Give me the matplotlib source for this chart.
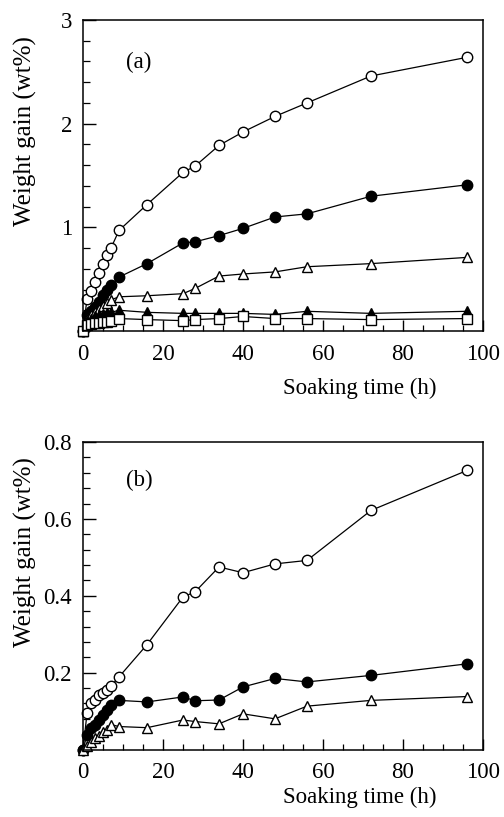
"""
Weight gain vs soaking time, two panels (a) and (b).
"""
import matplotlib
matplotlib.use('Agg')
import matplotlib.pyplot as plt
from matplotlib.ticker import MultipleLocator

plt.rcParams['font.family'] = ['Liberation Serif', 'DejaVu Serif']
plt.rcParams['mathtext.fontset'] = 'stix'

# Soaking times (h)
t = [0, 1, 2, 3, 4, 5, 6, 7, 9, 16, 25, 28, 34, 40, 48, 56, 72, 96]

# Panel (a), weight gain (wt%)
a_open_circle = [0, 0.31, 0.39, 0.47, 0.56, 0.65, 0.73, 0.80, 0.97, 1.22, 1.53, 1.59,
                 1.79, 1.92, 2.07, 2.20, 2.46, 2.64]
a_filled_circle = [0, 0.15, 0.19, 0.23, 0.28, 0.35, 0.40, 0.44, 0.52, 0.65, 0.85, 0.86,
                   0.92, 0.99, 1.10, 1.13, 1.30, 1.41]
a_open_triangle = [0, 0.12, 0.15, 0.18, 0.21, 0.24, 0.27, 0.30, 0.33, 0.34, 0.36, 0.41,
                   0.53, 0.55, 0.57, 0.62, 0.65, 0.71]
a_filled_triangle = [0, 0.10, 0.12, 0.14, 0.15, 0.16, 0.17, 0.18, 0.20, 0.18, 0.17, 0.17,
                     0.17, 0.17, 0.16, 0.19, 0.17, 0.19]
a_open_square = [0, 0.06, 0.07, 0.08, 0.08, 0.09, 0.09, 0.10, 0.12, 0.11, 0.10, 0.11,
                 0.12, 0.14, 0.12, 0.12, 0.11, 0.12]

# Panel (b), weight gain (wt%)
b_open_circle = [0, 0.094, 0.12, 0.13, 0.141, 0.148, 0.156, 0.165, 0.189, 0.273, 0.397,
                 0.41, 0.475, 0.46, 0.483, 0.492, 0.622, 0.726]
b_filled_circle = [0, 0.038, 0.055, 0.064, 0.077, 0.089, 0.102, 0.115, 0.128, 0.124,
                   0.137, 0.127, 0.129, 0.163, 0.185, 0.176, 0.193, 0.223]
b_open_triangle = [0, 0.01, 0.02, 0.03, 0.036, 0.045, 0.05, 0.065, 0.06, 0.057, 0.077,
                   0.073, 0.067, 0.093, 0.08, 0.113, 0.128, 0.138]

FS = 16.5


def draw_series(ax, y, marker, filled, ms):
    ax.plot(t, y, color='black', lw=0.9, marker=marker, ms=ms,
            mfc='black' if filled else 'white', mec='black', mew=1.0,
            clip_on=False)


def style_axes(ax, ymax, yminor, yticks, yfmt, tag, tag_y, xlab_y):
    ax.set_xlim(0, 100)
    ax.set_ylim(0, ymax)
    ax.set_xticks([0, 20, 40, 60, 80, 100])
    ax.xaxis.set_minor_locator(MultipleLocator(5))
    ax.set_yticks(yticks)
    ax.set_yticklabels([yfmt.format(v) for v in yticks])
    ax.yaxis.set_minor_locator(MultipleLocator(yminor))
    ax.tick_params(axis='x', which='both', direction='in', top=False, labelsize=FS, pad=9)
    ax.tick_params(axis='y', which='both', direction='in', right=False, labelsize=FS, pad=8)
    ax.tick_params(axis='x', which='major', length=8, width=1)
    ax.tick_params(axis='x', which='minor', length=4, width=0.9)
    ax.tick_params(axis='y', which='major', length=9, width=1)
    ax.tick_params(axis='y', which='minor', length=5, width=0.9)
    for sp in ax.spines.values():
        sp.set_linewidth(1.1)

    ax.text(0.14, tag_y, tag, transform=ax.transAxes, fontsize=FS,
            ha='center', va='center')
    ax.text(-0.145, 0.643, 'Weight gain (wt%)', transform=ax.transAxes,
            fontsize=18, rotation=90, ha='center', va='center')
    ax.text(0.6925, xlab_y, 'Soaking time (h)', transform=ax.transAxes,
            fontsize=FS, ha='center', va='center')


fig = plt.figure(figsize=(5.04, 8.17), dpi=100)
ax_a = fig.add_axes([83 / 504, 1 - 331 / 817, 400 / 504, 311 / 817])
ax_b = fig.add_axes([83 / 504, 1 - 749.6 / 817, 400 / 504, 307.6 / 817])

# (a)
draw_series(ax_a, a_open_circle, 'o', False, 7.5)
draw_series(ax_a, a_filled_circle, 'o', True, 7.5)
draw_series(ax_a, a_open_triangle, '^', False, 7.8)
draw_series(ax_a, a_filled_triangle, '^', True, 7.8)
draw_series(ax_a, a_open_square, 's', False, 6.8)
style_axes(ax_a, 3, 0.2, [1, 2, 3], '{:g}', '(a)', 0.865, -0.183)

# (b)
draw_series(ax_b, b_open_circle, 'o', False, 7.5)
draw_series(ax_b, b_filled_circle, 'o', True, 7.5)
draw_series(ax_b, b_open_triangle, '^', False, 7.8)
style_axes(ax_b, 0.8, 0.04, [0.2, 0.4, 0.6, 0.8], '{:.1f}', '(b)', 0.876, -0.157)

fig.savefig('out.png', dpi=100)
